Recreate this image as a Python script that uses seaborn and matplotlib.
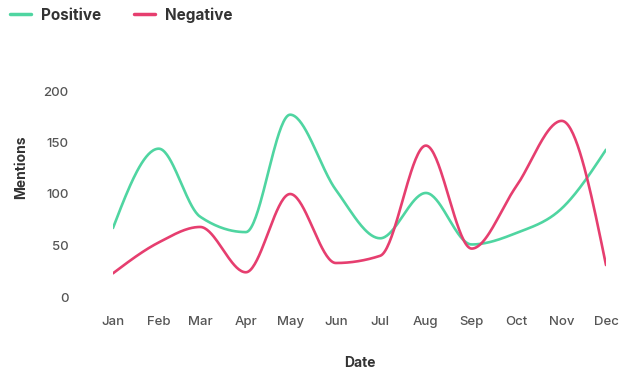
import numpy as np
import pandas as pd
import matplotlib
matplotlib.use("Agg")
import matplotlib.pyplot as plt
import matplotlib.dates as mdates
import seaborn as sns

months = ["Jan", "Feb", "Mar", "Apr", "May", "Jun",
          "Jul", "Aug", "Sep", "Oct", "Nov", "Dec"]
positive = [67, 144, 78, 63, 177, 104, 57, 101, 51, 62, 86, 143]
negative = [23, 53, 68, 24, 100, 33, 40, 147, 47, 107, 171, 31]
y_ticks = [0, 50, 100, 150, 200]

GREEN = "#4fd5a1"
RED = "#e63e6f"


def monotone_curve(x, y, n=40):
    """Monotone cubic (Fritsch-Carlson style) curve through the points."""
    x = np.asarray(x, float)
    y = np.asarray(y, float)
    h = np.diff(x)
    s = np.diff(y) / h
    t = np.zeros_like(y)
    for i in range(1, len(x) - 1):
        s0, s1 = s[i - 1], s[i]
        p = (s0 * h[i] + s1 * h[i - 1]) / (h[i - 1] + h[i])
        t[i] = (np.sign(s0) + np.sign(s1)) * min(abs(s0), abs(s1), 0.5 * abs(p))
    t[0] = (3 * s[0] - t[1]) / 2
    t[-1] = (3 * s[-1] - t[-2]) / 2
    xs, ys = [], []
    for i in range(len(x) - 1):
        u = np.linspace(0, 1, n, endpoint=(i == len(x) - 2))
        h00 = 2 * u**3 - 3 * u**2 + 1
        h10 = u**3 - 2 * u**2 + u
        h01 = -2 * u**3 + 3 * u**2
        h11 = u**3 - u**2
        xs.append(x[i] + u * h[i])
        ys.append(h00 * y[i] + h10 * h[i] * t[i] + h01 * y[i + 1] + h11 * h[i] * t[i + 1])
    return np.concatenate(xs), np.concatenate(ys)


dates = pd.date_range("2023-01-01", periods=len(months), freq="MS")
day_num = mdates.date2num(dates)

frames = []
for name, vals in [("Positive", positive), ("Negative", negative)]:
    xs, ys = monotone_curve(day_num, vals)
    frames.append(pd.DataFrame({"Date": mdates.num2date(xs), "Mentions": ys, "series": name}))
df = pd.concat(frames, ignore_index=True)
df["Date"] = pd.to_datetime(df["Date"]).dt.tz_localize(None)

sns.set_theme(style="white")
plt.rcParams["font.family"] = ["Inter", "DejaVu Sans"]

fig = plt.figure(figsize=(6.29, 3.73), dpi=100)
ax = fig.add_axes([113 / 629, 1 - 297 / 373, (606 - 113) / 629, (297 - 91) / 373])

sns.lineplot(data=df, x="Date", y="Mentions", hue="series", sort=False,
             palette={"Positive": GREEN, "Negative": RED},
             linewidth=1.9, ax=ax, legend=True)

ax.set_xlim(dates[0], dates[-1])
ax.set_ylim(0, 200)
ax.set_yticks(y_ticks)
ax.xaxis.set_major_locator(mdates.MonthLocator())
ax.xaxis.set_major_formatter(mdates.DateFormatter("%b"))
for sp in ax.spines.values():
    sp.set_visible(False)
ax.grid(False)
ax.tick_params(axis="y", length=0, pad=32, labelsize=9.5, labelcolor="#555555")
ax.tick_params(axis="x", length=0, pad=14, labelsize=9.5, labelcolor="#555555")
for lab in ax.get_xticklabels() + ax.get_yticklabels():
    lab.set_fontweight("medium")

ax.set_xlabel("Date", fontsize=10, fontweight="bold", color="#333333")
ax.set_ylabel("Mentions", fontsize=10, fontweight="bold", color="#333333")
ax.xaxis.set_label_coords(0.5, -0.285)
ax.yaxis.set_label_coords(-0.172, 0.63)

handles, labels = ax.get_legend_handles_labels()
ax.get_legend().remove()
for hd in handles:
    hd.set_linewidth(2.5)
leg = fig.legend(handles, labels, loc="center left",
                 bbox_to_anchor=(10 / 629, 1 - 15 / 373), ncol=2, frameon=False,
                 handlelength=1.4, handletextpad=0.65, columnspacing=2.1,
                 borderpad=0, borderaxespad=0,
                 prop={"size": 11, "weight": "bold"})
for txt in leg.get_texts():
    txt.set_color("#333333")

fig.savefig("out.png", dpi=100, facecolor="white")
